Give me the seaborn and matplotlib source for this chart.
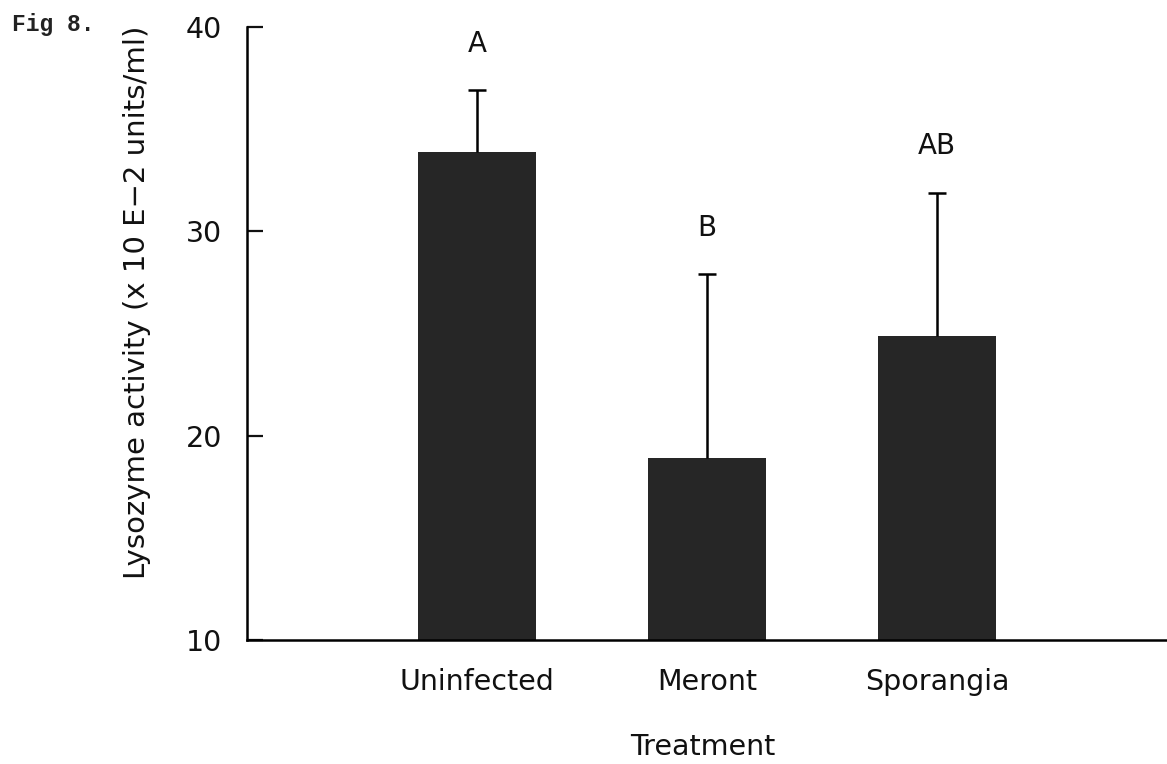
import matplotlib
matplotlib.use("Agg")
import matplotlib.pyplot as plt
import seaborn as sns
import pandas as pd
import numpy as np

categories = ["Uninfected", "Meront", "Sporangia"]
means = [33.9, 18.9, 24.9]
errors = [3.0, 9.0, 7.0]
letters = ["A", "B", "AB"]
yticks = [10, 20, 30, 40]

sns.set_theme(style="white")
plt.rcParams['font.family'] = ['DejaVu Sans']

df = pd.DataFrame({"Treatment": categories, "Activity": means})

fig = plt.figure(figsize=(11.67, 7.64), dpi=100)
ax = fig.add_axes([247/1167, 124/764, 1 - 247/1167, 613/764])

sns.barplot(data=df, x="Treatment", y="Activity", color="#262626",
            width=0.51, errorbar=None, ax=ax, saturation=1, edgecolor="none")

xs = np.arange(len(categories))
eb = ax.errorbar(xs, means, yerr=[np.zeros(len(errors)), errors], fmt="none",
                 ecolor="black", elinewidth=1.8, capsize=6.5, capthick=1.8)
# hide the lower caps (only upward error bars in the reference)
caplines = eb[1]
if len(caplines) == 2:
    caplines[0].set_visible(False)

for x, m, e, lab in zip(xs, means, errors, letters):
    ax.text(x, m + e + 1.6, lab, ha="center", va="bottom", fontsize=20, color="#111111")

ax.set_ylim(10, 40)
ax.set_xlim(-1.0, 3.0)
ax.set_yticks(yticks)
ax.set_yticklabels([str(t) for t in yticks], fontsize=20.5)
ax.tick_params(axis="y", which="major", left=True, direction="in", length=11.5,
               width=1.6, pad=18, colors="#111111")
ax.tick_params(axis="x", bottom=False, length=0, pad=20, labelsize=20.5, colors="#111111")
ax.set_xlabel("")
ax.set_ylabel("")

for s in ["top", "right"]:
    ax.spines[s].set_visible(False)
for s in ["left", "bottom"]:
    ax.spines[s].set_linewidth(1.8)
    ax.spines[s].set_color("black")

fig.text(137/1167, 1 - 302/764, "Lysozyme activity (x 10 E\u22122 units/ml)",
         rotation=90, ha="center", va="center", fontsize=21, color="#111111")
fig.text(703/1167, 1 - 747/764, "Treatment", ha="center", va="center",
         fontsize=20.5, color="#111111")
fig.text(12/1167, 1 - 25/764, "Fig 8.", ha="left", va="center",
         fontsize=16.5, fontweight="bold",
         family=["Liberation Mono", "DejaVu Sans Mono"], color="#222222")

fig.savefig("out.png", dpi=100, facecolor="white")
